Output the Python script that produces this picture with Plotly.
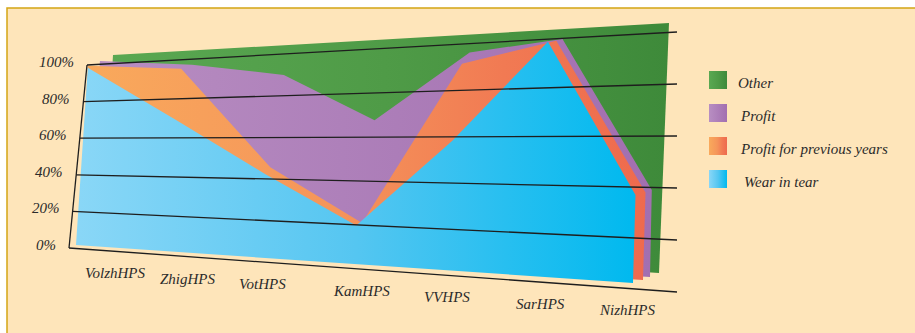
import plotly.graph_objects as go

# ---- data: share of each component per plant, percent ----
plants = ["VolzhHPS", "ZhigHPS", "VotHPS", "KamHPS", "VVHPS", "SarHPS", "NizhHPS"]
wear_in_tear = [98.5, 68.5, 41.0, 18.0, 57.5, 99.3, 35.5]
profit_prev_years = [0.5, 26.5, 3.0, 0.3, 34.0, 0.3, 0.2]
profit = [0.4, 0.3, 44.3, 47.2, 4.1, 0.1, 0.1]
other = [0.6, 4.7, 11.7, 34.5, 4.4, 0.3, 64.2]
tick_values = [0, 20, 40, 60, 80, 100]
tick_labels = ["0%", "20%", "40%", "60%", "80%", "100%"]

# ---- page geometry (pixel canvas) ----
W, H = 915, 333
FONT = "Liberation Serif"
FS = 15
TXT = "#2b2b2b"

# frame of the value grid: bottom-left, top-left, bottom-right, top-right
FRAME = ((69, 248), (87, 65), (677, 292), (677, 32))
# each series layer sits on its own slightly offset plane (front to back)
PLANES = {
    "wear": ((76, 245), (88, 65), (633, 283), (640, 35)),
    "prev": ((78, 244), (88, 64), (643, 280), (650, 35)),
    "profit": ((88, 241), (100, 60), (650, 277), (655, 34)),
    "other": ((101, 237), (113, 55), (659, 273), (669, 23)),
}
LABEL_X = [115, 188, 262, 361, 447, 540, 627]


def proj(q, u, v):
    """Bilinear mapping of (u, v) in the unit square onto quad q."""
    (blx, bly), (tlx, tly), (brx, bry), (trx, try_) = q
    lx, ly = blx + (tlx - blx) * v, bly + (tly - bly) * v
    rx, ry = brx + (trx - brx) * v, bry + (try_ - bry) * v
    return lx + (rx - lx) * u, ly + (ry - ly) * u


def cumulative(*series):
    return [sum(vals) for vals in zip(*series)]


n = len(plants)
us = [i / (n - 1) for i in range(n)]

layers = [
    ("Other", "other", [100.0] * n,
     [[0, "#5AA852"], [0.5, "#4F9B47"], [1, "#3E8A3A"]]),
    ("Profit", "profit", cumulative(wear_in_tear, profit_prev_years, profit),
     [[0, "#B88EC2"], [1, "#A26FB0"]]),
    ("Profit for previous years", "prev", cumulative(wear_in_tear, profit_prev_years),
     [[0, "#F9AA5C"], [0.45, "#F5955A"], [0.75, "#F17A53"], [1, "#EE6A4E"]]),
    ("Wear in tear", "wear", list(wear_in_tear),
     [[0, "#8AD7F7"], [0.5, "#55C6F1"], [1, "#00B9EF"]]),
]

fig = go.Figure()

# layered areas, back to front
for name, key, tops, scale in layers:
    q = PLANES[key]
    xs, ys = [], []
    for u, t in zip(us, tops):
        x, y = proj(q, u, t / 100.0)
        xs.append(x)
        ys.append(y)
    for u in (1.0, 0.0):
        x, y = proj(q, u, 0.0)
        xs.append(x)
        ys.append(y)
    xs.append(xs[0])
    ys.append(ys[0])
    fig.add_trace(go.Scatter(
        x=xs, y=ys, mode="lines", fill="toself",
        line=dict(width=0, color="rgba(0,0,0,0)"),
        fillgradient=dict(type="horizontal", colorscale=scale),
        hoverinfo="skip", showlegend=False,
    ))

# value grid lines and left axis
for tv, tl in zip(tick_values, tick_labels):
    x0, y0 = proj(FRAME, 0, tv / 100)
    x1, y1 = proj(FRAME, 1, tv / 100)
    fig.add_trace(go.Scatter(x=[x0, x1], y=[y0, y1], mode="lines",
                             line=dict(color="#1e1e1e", width=1.3),
                             hoverinfo="skip", showlegend=False))
    fig.add_annotation(x=x0 - 11, y=y0 - 3, text=f"<i>{tl}</i>", showarrow=False,
                       xanchor="right", yanchor="middle",
                       font=dict(family=FONT, size=FS, color=TXT))
ax0 = proj(FRAME, 0, 0)
ax1 = proj(FRAME, 0, 1)
fig.add_trace(go.Scatter(x=[ax0[0], ax1[0]], y=[ax0[1], ax1[1]], mode="lines",
                         line=dict(color="#1e1e1e", width=1.3),
                         hoverinfo="skip", showlegend=False))

# category labels along the base line
bl, br = FRAME[0], FRAME[2]
for lx, name in zip(LABEL_X, plants):
    by = bl[1] + (br[1] - bl[1]) * (lx - bl[0]) / (br[0] - bl[0])
    fig.add_annotation(x=lx, y=by + 22, text=f"<i>{name}</i>", showarrow=False,
                       xanchor="center", yanchor="middle",
                       font=dict(family=FONT, size=FS, color=TXT))

# legend: gradient swatches with labels
legend_rows = [("Other", 71, 736), ("Profit", 104, 738),
               ("Profit for previous years", 137, 738), ("Wear in tear", 170, 742)]
scales = {name: scale for name, _, _, scale in layers}
for name, top, tx in legend_rows:
    sx0, sx1, sy0, sy1 = 709, 727, top, top + 18
    fig.add_trace(go.Scatter(
        x=[sx0, sx1, sx1, sx0, sx0], y=[sy0, sy0, sy1, sy1, sy0],
        mode="lines", fill="toself", line=dict(width=0, color="rgba(0,0,0,0)"),
        fillgradient=dict(type="horizontal", colorscale=scales[name]),
        hoverinfo="skip", showlegend=False,
    ))
    fig.add_annotation(x=tx, y=top + 12, text=f"<i>{name}</i>", showarrow=False,
                       xanchor="left", yanchor="middle",
                       font=dict(family=FONT, size=FS, color=TXT))

fig.update_layout(
    width=W, height=H, margin=dict(l=0, r=0, t=0, b=0),
    paper_bgcolor="white", plot_bgcolor="white",
    xaxis=dict(range=[0, W], visible=False, fixedrange=True),
    yaxis=dict(range=[H, 0], visible=False, fixedrange=True),
    shapes=[dict(type="rect", xref="x", yref="y", x0=7, y0=8, x1=W + 5, y1=H + 5,
                 fillcolor="#FEE5BA", line=dict(color="#D4A514", width=1.5),
                 layer="below")],
)

fig.write_html("out.html")
